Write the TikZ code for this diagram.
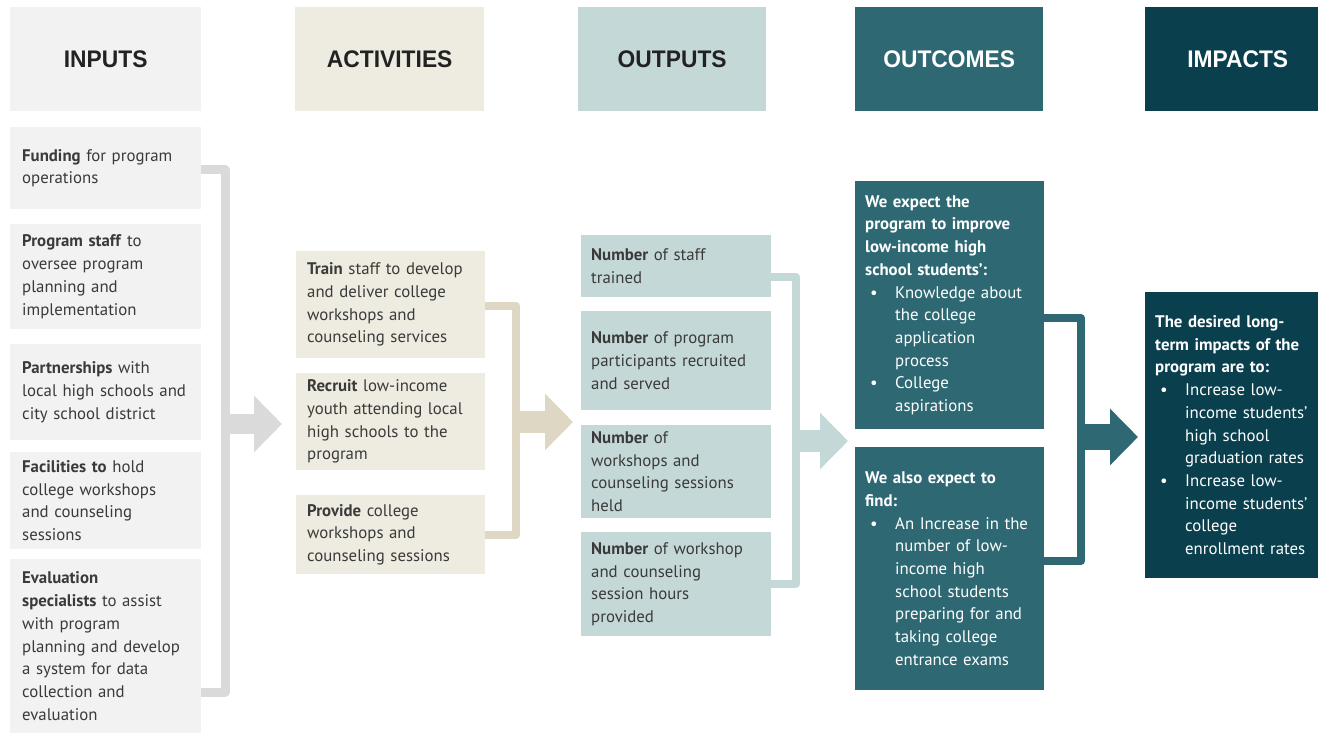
\documentclass[tikz,border=0pt]{standalone}
\usepackage{fontspec}
\setmainfont{PT Sans}
\newfontfamily\headfont[FakeStretch=0.95]{Liberation Sans}
\usetikzlibrary{arrows.meta}
\definecolor{inC}{HTML}{F2F2F2}
\definecolor{actC}{HTML}{EEEBE0}
\definecolor{outC}{HTML}{C5D8D8}
\definecolor{ocC}{HTML}{2D6873}
\definecolor{imC}{HTML}{0A3F4E}
\definecolor{inBr}{HTML}{DADADA}
\definecolor{actBr}{HTML}{DDD7C3}
\definecolor{outBr}{HTML}{C5D8D8}
\definecolor{txt}{HTML}{3A3A3A}
\definecolor{htxt}{HTML}{222222}
\newcommand\mybul{\makebox[30pt][l]{\hspace{5pt}\textbullet}}
\newcommand\myind{\hspace*{30pt}}
\begin{document}
\begin{tikzpicture}[x=1pt,y=-1pt,
  hdr/.style={anchor=north west, inner sep=0pt, minimum height=104pt, font=\headfont\bfseries\fontsize{24}{26}\selectfont},
  body/.style={anchor=north west, inner ysep=0pt, align=left, font=\fontsize{16.8}{22.7}\selectfont},
  inbox/.style={body, fill=inC, text=txt, inner xsep=12pt, text width=167pt},
  actbox/.style={body, fill=actC, text=txt, inner xsep=11pt, text width=167pt},
  outbox/.style={body, fill=outC, text=txt, inner xsep=10pt, text width=170pt},
  ocbox/.style={body, fill=ocC, text=white, inner xsep=10pt, text width=169pt},
  imbox/.style={body, fill=imC, text=white, inner xsep=10pt, text width=165pt},
  bracket/.style={line width=8pt, line join=round},
  flow/.style={line width=#1, -{Triangle[length=28pt, width=55pt]}},
]
\useasboundingbox (0,0) rectangle (1318,733);

% headers
\node[hdr, fill=inC, minimum width=191pt, text=htxt] (h1) at (10,7) {INPUTS};
\node[hdr, fill=actC, minimum width=189pt, text=htxt] (h2) at (295,7) {ACTIVITIES};
\node[hdr, fill=outC, minimum width=188pt, text=htxt] (h3) at (578,7) {OUTPUTS};
\node[hdr, fill=ocC, minimum width=188pt, text=white] (h4) at (855,7) {OUTCOMES};
\node[hdr, fill=imC, minimum width=185pt, text=white] (h5) at (1145,7) {IMPACTS};

% inputs
\node[inbox, minimum height=82pt] (in1) at (10,127) {\textbf{Funding} for program\\operations};
\node[inbox, minimum height=105pt] (in2) at (10,224) {\textbf{Program staff} to\\oversee program\\planning and\\implementation};
\node[inbox, minimum height=96pt] (in3) at (10,344) {\textbf{Partnerships} with\\local high schools and\\city school district};
\node[inbox, minimum height=97pt] (in4) at (10,452) {\textbf{Facilities to} hold\\college workshops\\and counseling\\sessions};
\node[inbox, minimum height=174pt] (in5) at (10,559) {\textbf{Evaluation}\\\textbf{specialists} to assist\\with program\\planning and develop\\a system for data\\collection and\\evaluation};

% activities
\node[actbox, minimum height=107pt] (ac1) at (296,251) {\textbf{Train} staff to develop\\and deliver college\\workshops and\\counseling services};
\node[actbox, minimum height=97pt] (ac2) at (296,373) {\textbf{Recruit} low-income\\youth attending local\\high schools to the\\program};
\node[actbox, minimum height=79pt] (ac3) at (296,495) {\textbf{Provide} college\\workshops and\\counseling sessions};

% outputs
\node[outbox, minimum height=62pt] (ou1) at (581,235) {\textbf{Number} of staff\\trained};
\node[outbox, minimum height=99pt] (ou2) at (581,311) {\textbf{Number} of program\\participants recruited\\and served};
\node[outbox, minimum height=93pt] (ou3) at (581,425) {\textbf{Number} of\\workshops and\\counseling sessions\\held};
\node[outbox, minimum height=104pt] (ou4) at (581,532) {\textbf{Number} of workshop\\and counseling\\session hours\\provided};

% outcomes
\node[ocbox, minimum height=248pt] (oc1) at (855,181) {\textbf{We expect the}\\\textbf{program to improve}\\\textbf{low-income high}\\\textbf{school students':}\\\mybul Knowledge about\\\myind the college\\\myind application\\\myind process\\\mybul College\\\myind aspirations};
\node[ocbox, minimum height=243pt] (oc2) at (855,447) {\textbf{We also expect to}\\\textbf{find:}\\\mybul An Increase in the\\\myind number of low-\\\myind income high\\\myind school students\\\myind preparing for and\\\myind taking college\\\myind entrance exams};

% impacts
\node[imbox, minimum height=286pt] (im1) at (1145,292) {\textbf{The desired long-}\\\textbf{term impacts of the}\\\textbf{program are to:}\\\mybul Increase low-\\\myind income students'\\\myind high school\\\myind graduation rates\\\mybul Increase low-\\\myind income students'\\\myind college\\\myind enrollment rates};

% brackets and arrows
\coordinate (ib1) at (225,170);
\coordinate (ib2) at (225,692);
\coordinate (ia1) at (225,424);
\coordinate (ia2) at (282,424);
\draw[bracket, line width=9pt, inBr] (in1.east |- ib1) -- (ib1) -- (ib2) -- (in5.east |- ib2);
\draw[flow=20pt, inBr] (ia1) -- (ia2);

\coordinate (ab1) at (516,306);
\coordinate (ab2) at (516,535);
\coordinate (aa1) at (516,422);
\coordinate (aa2) at (573,422);
\draw[bracket, actBr] (ac1.east |- ab1) -- (ab1) -- (ab2) -- (ac3.east |- ab2);
\draw[flow=22pt, actBr] (aa1) -- (aa2);

\coordinate (ob1) at (796,277);
\coordinate (ob2) at (796,584);
\coordinate (oa1) at (796,441);
\coordinate (oa2) at (848,441);
\draw[bracket, outBr] (ou1.east |- ob1) -- (ob1) -- (ob2) -- (ou4.east |- ob2);
\draw[flow=22pt, outBr] (oa1) -- (oa2);

\coordinate (cb1) at (1081,318);
\coordinate (cb2) at (1081,561);
\coordinate (ca1) at (1081,437);
\coordinate (ca2) at (1138,437);
\draw[bracket, ocC] (oc1.east |- cb1) -- (cb1) -- (cb2) -- (oc2.east |- cb2);
\draw[flow=26pt, ocC] (ca1) -- (ca2);
\end{tikzpicture}
\end{document}
